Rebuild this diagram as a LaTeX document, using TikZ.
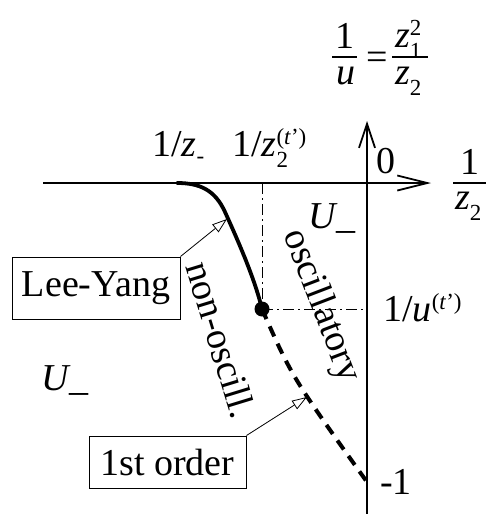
\documentclass[tikz,border=0pt]{standalone}
\usepackage{fontspec}
\setmainfont{Liberation Serif}
\usetikzlibrary{arrows.meta}
\newcommand\scr[1]{{\fontsize{23}{23}\selectfont #1}}
\newcommand\zsub[1]{\raisebox{-11pt}{\scr{#1}}}
\newcommand\zsubsup[2]{\makebox[0pt][l]{\raisebox{-11pt}{\scr{#1}}}\raisebox{12pt}{\scr{#2}}}
\begin{document}
\begin{tikzpicture}[x=1pt,y=-1pt,
  every node/.style={font=\fontsize{38}{42}\selectfont, inner sep=0pt},
  axis/.style={line width=1.8pt},
  guide/.style={line width=0.9pt, dash pattern=on 11pt off 4pt on 2pt off 4pt},
  curvestyle/.style={line width=3.8pt, line cap=round},
  dashstyle/.style={line width=4pt, dash pattern=on 11pt off 8pt},
  labelbox/.style={draw, line width=1pt, inner sep=4pt},
  pointer/.style={line width=0.8pt, -{Triangle[open, length=15pt, width=10pt]}},
  fracbar/.style={line width=1.4pt}]
\useasboundingbox (0,0) rectangle (486,514);

% axes
\coordinate (xs) at (43,183);
\coordinate (xe) at (431,183);
\coordinate (ys) at (367,514);
\coordinate (ye) at (367,121);
\draw[axis, -{Straight Barb[length=30pt,width=15pt]}] (xs) -- (xe);
\draw[axis, -{Straight Barb[length=24pt,width=16pt]}] (ys) -- (ye);

% guide lines
\coordinate (dot) at (262,309);
\coordinate (zt) at (262,183);
\coordinate (ut) at (367,309);
\draw[guide] (zt) -- (dot) -- (ut);

% Lee-Yang curve
\coordinate (ly) at (227,219);
\coordinate (c0) at (177,183);
\coordinate (c1) at (225,212);
\draw[curvestyle] (c0) .. controls (200,183) and (215,190) .. (c1)
  .. controls (240,245) and (255,280) .. (dot);

% first order line
\coordinate (fo) at (307,397);
\coordinate (m1) at (367,482);
\draw[dashstyle] (dot) .. controls (292,377) .. (m1);
\node[circle, fill, minimum size=15pt] (dotn) at (dot) {};

% boxes
\node[labelbox, minimum width=168pt, minimum height=62pt] (LY) at (96,288) {Lee-Yang};
\node[labelbox, minimum width=157pt, minimum height=52pt] (FO) at (167.5,462) {1st order};
\draw[pointer] (LY.north east) -- (ly);
\draw[pointer] (FO.north east) -- (fo);

% axis labels
\node[anchor=base west] (lzm) at (152,156) {1/{\itshape z}\raisebox{-7pt}{\scr{-}}};
\node[anchor=base west] (lzt) at (232,156) {1/{\itshape z}\zsubsup{2}{(\itshape t\/\upshape')}};
\node (zero) at (386,161) {0};
\node[anchor=base west] (lut) at (383,321) {1/{\itshape u}\raisebox{12pt}{\scr{(\itshape t\/\upshape')}}};
\node (mone) at (396,482) {-1};

% right fraction 1/z2
\node[anchor=base] (r1) at (470,174) {1};
\node[anchor=base west] (rz) at (455,209) {\itshape z\zsub{\upshape 2}};
\coordinate (rb1) at (453,183);
\coordinate (rb2) at (486,183);
\draw[fracbar] (rb1) -- (rb2);

% top formula
\node[anchor=base] (t1) at (345,48) {1};
\node[anchor=base] (tu) at (346,84) {\itshape u};
\coordinate (tb1) at (332,57);
\coordinate (tb2) at (357,57);
\draw[fracbar] (tb1) -- (tb2);
\node (teq) at (377,61) {=};
\node[anchor=base west] (tz1) at (395,47) {\itshape z\zsubsup{\upshape 1}{\upshape 2}};
\node[anchor=base west] (tz2) at (395,84) {\itshape z\zsub{\upshape 2}};
\coordinate (tc1) at (392,57);
\coordinate (tc2) at (428,57);
\draw[fracbar] (tc1) -- (tc2);

% regions
\node (U1) at (332,219) {\itshape U\upshape\_};
\node (U2) at (65,381) {\itshape U\upshape\_};

% rotated labels
\node[rotate=-73] (nonosc) at (221,340) {non-oscill.};
\node[rotate=-69] (osc) at (321,306) {oscillatory};
\end{tikzpicture}
\end{document}
